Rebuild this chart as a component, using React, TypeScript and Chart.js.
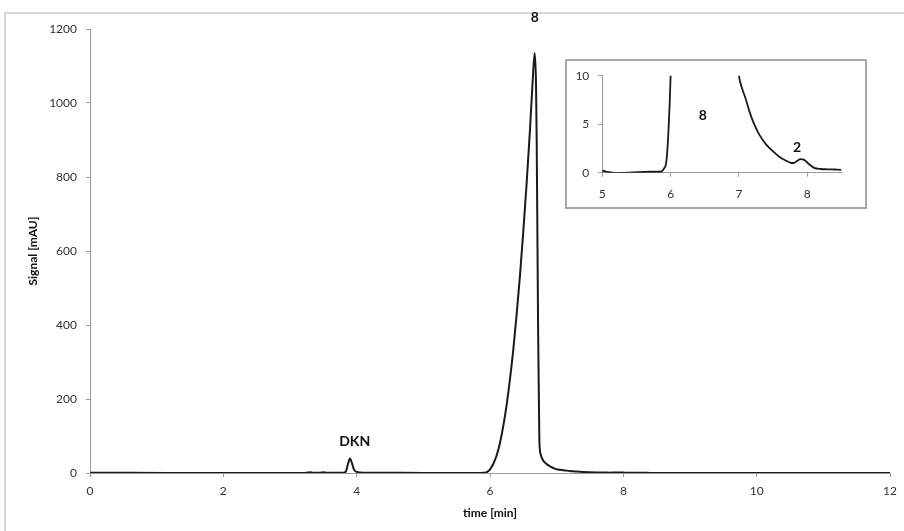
import React, { useEffect, useRef } from "react";
import { Chart, registerables } from "chart.js";
Chart.register(...registerables);

// chromatogram: time [min] and signal [mAU]
const timeMin = [
  0, 0.6, 1.3, 2.0, 2.6, 3.2, 3.27, 3.3, 3.34, 3.45, 3.5, 3.55, 3.7, 3.8, 3.84, 3.87, 3.9, 3.93, 3.96, 4.0, 4.05, 4.2,
  4.6, 5.0, 5.1, 5.2, 5.35, 5.5, 5.7, 5.85, 5.9, 5.94, 5.97, 6.0, 6.05, 6.1, 6.15, 6.2, 6.25, 6.3, 6.35, 6.4,
  6.45, 6.5, 6.55, 6.6, 6.64, 6.67, 6.69, 6.7, 6.72, 6.74, 6.76, 6.8, 6.85, 6.9, 6.95, 7.0, 7.05, 7.1, 7.15,
  7.2, 7.25, 7.3, 7.4, 7.5, 7.6, 7.7, 7.75, 7.8, 7.85, 7.9, 7.95, 8.0, 8.05, 8.1, 8.2, 8.3, 8.4, 8.5, 8.8,
  9.5, 10.1, 11.0, 12.0,
];
const signalMAU = [
  0.5, 0.4, 0.3, 0.3, 0.3, 0.3, 1.5, 2, 0.4, 0.5, 2, 0.4, 0.4, 0.6, 5, 25, 39, 26, 9, 3, 1.2, 0.5,
  0.4, 0.2, 0.05, -0.05, 0.0, 0.05, 0.1, 0.1, 0.4, 1.3, 4.5, 10, 25, 48, 82, 128, 185, 255, 335, 430,
  535, 655, 785, 930, 1060, 1135, 1050, 900, 420, 90, 50, 33, 24, 18, 13.5, 10, 8.6, 7.6, 6.4,
  5.4, 4.6, 3.9, 2.9, 2.2, 1.6, 1.2, 1.05, 1.0, 1.2, 1.4, 1.35, 1.05, 0.75, 0.5, 0.38, 0.35, 0.33, 0.3, 0.3,
  0.3, 0.3, 0.3, 0.3,
];

const mainXTicks = [0, 2, 4, 6, 8, 10, 12];
const mainYTicks = [0, 200, 400, 600, 800, 1000, 1200];
const insetXTicks = [5, 6, 7, 8];
const insetYTicks = [0, 5, 10];

const mainPeakNames = ["DKN", "8"];
const mainPeakX = [3.97, 6.67];
const mainPeakY = [84, 1232];
const insetPeakNames = ["8", "2"];
const insetPeakX = [6.47, 7.85];
const insetPeakY = [5.95, 2.65];

const FONT = "Lato, 'Liberation Sans', sans-serif";

function labelPlugin(names: string[], xs: number[], ys: number[]) {
  return {
    id: "peakLabels",
    afterDatasetsDraw(chart: any) {
      const ctx = chart.ctx;
      const xs_ = chart.scales.x;
      const ys_ = chart.scales.y;
      ctx.save();
      ctx.font = `bold 14px ${FONT}`;
      ctx.fillStyle = "#111";
      ctx.textAlign = "center";
      ctx.textBaseline = "middle";
      names.forEach((n, i) => {
        ctx.fillText(n, xs_.getPixelForValue(xs[i]), ys_.getPixelForValue(ys[i]));
      });
      ctx.restore();
    },
  };
}

function pts() {
  return timeMin.map((t, i) => ({ x: t, y: signalMAU[i] }));
}

const plain = (v: any) => String(v);

export default function App() {
  const mainRef = useRef<HTMLCanvasElement>(null);
  const insetRef = useRef<HTMLCanvasElement>(null);

  useEffect(() => {
    const tickFont = { family: FONT, size: 12 };
    const main = new Chart(mainRef.current!, {
      type: "line",
      data: {
        datasets: [
          {
            data: pts(),
            borderColor: "#1a1a1a",
            borderWidth: 2,
            pointRadius: 0,
            cubicInterpolationMode: "monotone",
            fill: false,
          },
        ],
      },
      options: {
        animation: false,
        responsive: false,
        events: [],
        layout: { padding: { left: 0, top: 29, right: 10, bottom: 0 } },
        plugins: { legend: { display: false }, tooltip: { enabled: false } },
        scales: {
          x: {
            type: "linear",
            min: 0,
            max: 12,
            afterBuildTicks: (s: any) => {
              s.ticks = mainXTicks.map((v) => ({ value: v }));
            },
            afterFit: (s: any) => {
              s.height = 58;
            },
            grid: { display: true, drawOnChartArea: false, drawTicks: true, tickLength: 4, color: "#9a9a9a" },
            border: { display: true, color: "#9a9a9a", width: 1 },
            ticks: { font: tickFont, color: "#333", padding: 7, maxRotation: 0, callback: plain },
            title: {
              display: true,
              text: "time [min]",
              font: { family: FONT, size: 12, weight: "bold" },
              color: "#111",
              padding: { top: 0, bottom: 10.8 },
            },
          },
          y: {
            type: "linear",
            min: 0,
            max: 1200,
            afterBuildTicks: (s: any) => {
              s.ticks = mainYTicks.map((v) => ({ value: v }));
            },
            afterFit: (s: any) => {
              s.width = 90;
            },
            grid: { display: true, drawOnChartArea: false, drawTicks: true, tickLength: 4, color: "#9a9a9a" },
            border: { display: true, color: "#9a9a9a", width: 1 },
            ticks: { font: tickFont, color: "#333", padding: 9, callback: plain },
            title: {
              display: true,
              text: "Signal [mAU]",
              font: { family: FONT, size: 12, weight: "bold" },
              color: "#111",
              padding: { top: 25.8, bottom: 0 },
            },
          },
        },
      },
      plugins: [labelPlugin(mainPeakNames, mainPeakX, mainPeakY)],
    } as any);

    const inset = new Chart(insetRef.current!, {
      type: "line",
      data: {
        datasets: [
          {
            data: pts(),
            borderColor: "#1a1a1a",
            borderWidth: 1.8,
            pointRadius: 0,
            cubicInterpolationMode: "monotone",
            fill: false,
          },
        ],
      },
      options: {
        animation: false,
        responsive: false,
        events: [],
        layout: { padding: { left: 0, top: 16.7, right: 25.6, bottom: 0 } },
        plugins: { legend: { display: false }, tooltip: { enabled: false } },
        scales: {
          x: {
            type: "linear",
            min: 5,
            max: 8.5,
            afterBuildTicks: (s: any) => {
              s.ticks = insetXTicks.map((v) => ({ value: v }));
            },
            afterFit: (s: any) => {
              s.height = 36.3;
            },
            grid: { display: true, drawOnChartArea: false, drawTicks: true, tickLength: 4, color: "#9a9a9a" },
            border: { display: true, color: "#9a9a9a", width: 1 },
            ticks: { font: tickFont, color: "#333", padding: 10, maxRotation: 0, callback: plain },
          },
          y: {
            type: "linear",
            min: 0,
            max: 10,
            afterBuildTicks: (s: any) => {
              s.ticks = insetYTicks.map((v) => ({ value: v }));
            },
            afterFit: (s: any) => {
              s.width = 37.3;
            },
            grid: { display: true, drawOnChartArea: false, drawTicks: true, tickLength: 4, color: "#9a9a9a" },
            border: { display: true, color: "#9a9a9a", width: 1 },
            ticks: { font: tickFont, color: "#333", padding: 9, callback: plain },
          },
        },
      },
      plugins: [labelPlugin(insetPeakNames, insetPeakX, insetPeakY)],
    } as any);

    return () => {
      main.destroy();
      inset.destroy();
    };
  }, []);

  return (
    <div
      style={{
        position: "fixed",
        left: 0,
        top: 0,
        width: 904,
        height: 531,
        overflow: "hidden",
        background: "#fff",
      }}
    >
      <div
        style={{
          position: "absolute",
          left: 4,
          top: 12,
          width: 1000,
          height: 1000,
          borderLeft: "2px solid #d6d6d6",
          borderTop: "2px solid #d6d6d6",
        }}
      />
      <canvas
        ref={mainRef}
        width={904}
        height={531}
        style={{ position: "absolute", left: 0, top: 0, width: 904, height: 531 }}
      />
      <div
        style={{
          position: "absolute",
          left: 565,
          top: 59,
          width: 302,
          height: 150,
          boxSizing: "border-box",
          border: "2px solid #a8a8a8",
          background: "#fff",
        }}
      />
      <canvas
        ref={insetRef}
        width={302}
        height={150}
        style={{ position: "absolute", left: 565, top: 59, width: 302, height: 150 }}
      />
    </div>
  );
}
